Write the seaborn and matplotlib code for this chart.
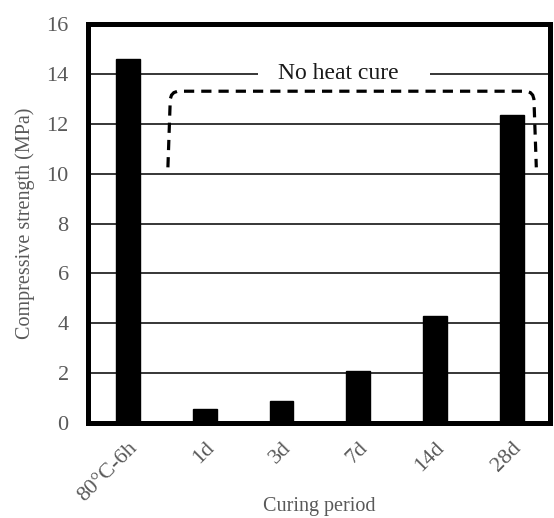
import matplotlib
matplotlib.use("Agg")
import matplotlib.pyplot as plt
import seaborn as sns
import pandas as pd
from matplotlib.path import Path
from matplotlib.patches import PathPatch

categories = ["80°C-6h", "1d", "3d", "7d", "14d", "28d"]
strength = [14.6, 0.57, 0.9, 2.1, 4.3, 12.35]
yticks = [0, 2, 4, 6, 8, 10, 12, 14, 16]
annot_text = "No heat cure"

sns.set_theme(style="white")
plt.rcParams["font.family"] = ["Liberation Serif", "DejaVu Serif"]

df = pd.DataFrame({"period": categories, "strength": strength})

fig = plt.figure(figsize=(5.54, 5.18), dpi=100)
ax = fig.add_axes([0.159, 0.183, 0.834, 0.771])

sns.barplot(data=df, x="period", y="strength", color="black", width=0.31,
            saturation=1, ax=ax, zorder=3, edgecolor="black")

ax.set_ylim(0, 16)
ax.set_xlim(-0.52, 5.5)
ax.set_yticks(yticks)
ax.set_yticklabels([str(v) for v in yticks])
for v in yticks[1:-1]:
    ax.axhline(v, color="black", lw=1.1, zorder=1)

for s in ax.spines.values():
    s.set_visible(True)
    s.set_color("black")
    s.set_linewidth(3.6)
    s.set_zorder(5)

ax.tick_params(axis="both", length=0, labelsize=16, labelcolor="#595959")
ax.tick_params(axis="x", pad=11)
ax.tick_params(axis="y", pad=14)
plt.setp(ax.get_xticklabels(), rotation=45, ha="right", rotation_mode="anchor")

ax.set_xlabel("Curing period", fontsize=14.5, color="#595959")
ax.xaxis.set_label_coords(0.5, -0.185)
ax.xaxis.label.set_va("top")
ax.set_ylabel("Compressive strength (MPa)", fontsize=14.5, color="#595959", labelpad=8)

# bracket
xl, xr, yb, yt = 0.52, 5.32, 10.25, 13.3
verts = [(xl, yb), (xl + 0.03, 12.9), (xl + 0.03, yt), (xl + 0.15, yt),
         (xr - 0.15, yt), (xr - 0.03, yt), (xr - 0.03, 12.9), (xr, yb)]
codes = [Path.MOVETO, Path.LINETO, Path.CURVE3, Path.CURVE3,
         Path.LINETO, Path.CURVE3, Path.CURVE3, Path.LINETO]
ax.add_patch(PathPatch(Path(verts, codes), fill=False, lw=2.3, ls=(0, (3.2, 2.2)),
                       edgecolor="black", zorder=4))

ax.text(1.95, 14.0, annot_text + "  ", fontsize=17, color="#1a1a1a", ha="left", va="center",
        zorder=2, bbox=dict(facecolor="white", edgecolor="none", pad=14.5))

fig.savefig("out.png", dpi=100)
